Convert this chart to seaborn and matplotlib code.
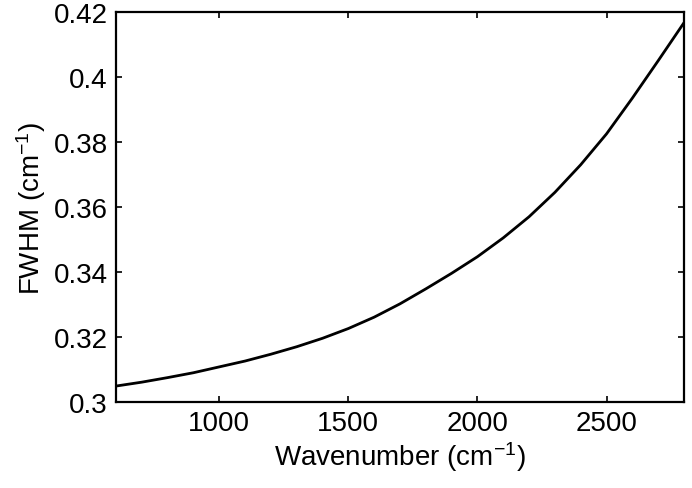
import numpy as np
import pandas as pd
import matplotlib
matplotlib.use("Agg")
import matplotlib.pyplot as plt
import seaborn as sns

# values
wavenumber = [600, 700, 800, 900, 1000, 1100, 1200, 1300, 1400, 1500, 1600, 1700,
              1800, 1900, 2000, 2100, 2200, 2300, 2400, 2500, 2600, 2700, 2800]
fwhm = [0.3049, 0.3061, 0.3075, 0.3090, 0.3108, 0.3126, 0.3147, 0.3170, 0.3196,
        0.3226, 0.3261, 0.3302, 0.3348, 0.3396, 0.3447, 0.3505, 0.3570, 0.3645,
        0.3730, 0.3825, 0.3935, 0.4050, 0.4167]
xticks = [1000, 1500, 2000, 2500]
yticks = [0.3, 0.32, 0.34, 0.36, 0.38, 0.4, 0.42]
ytick_labels = ["0.3", "0.32", "0.34", "0.36", "0.38", "0.4", "0.42"]

df = pd.DataFrame({"wavenumber": wavenumber, "fwhm": fwhm})

sns.set_style("ticks")
plt.rcParams["font.family"] = ["Liberation Sans", "DejaVu Sans"]
plt.rcParams["mathtext.fontset"] = "custom"
plt.rcParams["mathtext.rm"] = "Liberation Sans"
plt.rcParams["mathtext.it"] = "Liberation Sans"

fig = plt.figure(figsize=(6.92, 4.89), dpi=100)
ax = fig.add_axes([0.1676, 0.1759, 0.8208, 0.7975])

sns.lineplot(x="wavenumber", y="fwhm", data=df, color="black", linewidth=2, ax=ax)

ax.set_xlim(600, 2800)
ax.set_ylim(0.3, 0.42)
ax.set_xticks(xticks)
ax.set_yticks(yticks)
ax.set_yticklabels(ytick_labels)
ax.tick_params(direction="in", length=4, width=1.2, labelsize=20, colors="black",
               top=True, right=True, pad=6)
for s in ax.spines.values():
    s.set_linewidth(1.6)
    s.set_color("black")
    s.set_visible(True)

ax.set_xlabel("Wavenumber (cm$^{-1}$)", fontsize=20, labelpad=2, color="black")
ax.set_ylabel("FWHM (cm$^{-1}$)", fontsize=20, labelpad=4, color="black")

fig.savefig("out.png", dpi=100)
